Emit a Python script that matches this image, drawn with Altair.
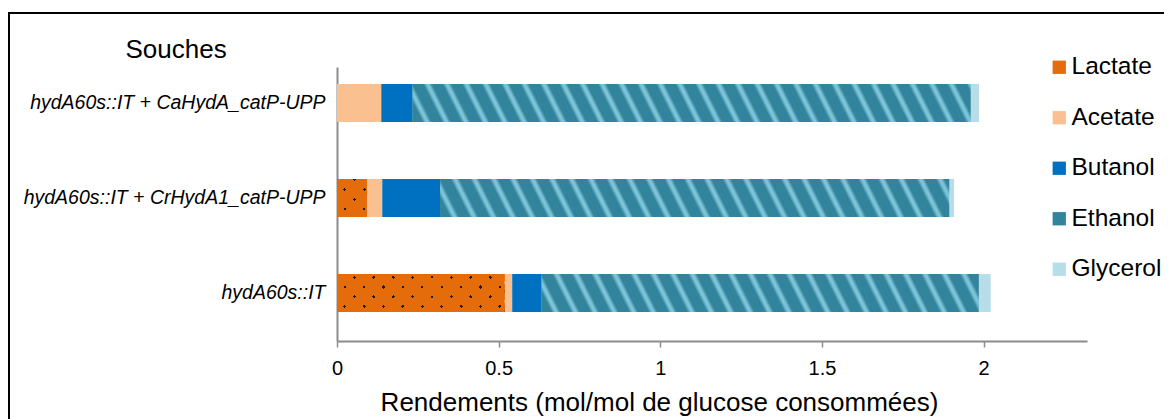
import math
import altair as alt
import pandas as pd

# ---------------- data ----------------
strains = ["hydA60s::IT + CaHydA_catP-UPP", "hydA60s::IT + CrHydA1_catP-UPP", "hydA60s::IT"]
components = ["Lactate", "Acetate", "Butanol", "Ethanol", "Glycerol"]
lactate = [0.0, 0.093, 0.519]
acetate = [0.137, 0.047, 0.023]
butanol = [0.097, 0.179, 0.091]
ethanol = [1.726, 1.575, 1.352]
glycerol = [0.026, 0.015, 0.037]
x_ticks = [0, 0.5, 1, 1.5, 2]
x_max = 2.32
colors = ["#E46C0A", "#FAC090", "#0070C0", "#31849B", "#B7DEE8"]

# ---------------- layout / style ----------------
FONT = "Liberation Sans"
PLOT_W, PLOT_H = 750, 274
PAD_IN, PAD_OUT, ALIGN = 0.6, 0.242, 0.37
AXIS_GRAY = "#8c8c8c"
px_per_unit = PLOT_W / x_max
step = PLOT_H / (len(strains) - PAD_IN + 2 * PAD_OUT)
bar_h = (1 - PAD_IN) * step

series = {"Lactate": lactate, "Acetate": acetate, "Butanol": butanol,
          "Ethanol": ethanol, "Glycerol": glycerol}
rows = []
for i, s in enumerate(strains):
    acc = 0.0
    for c in components:
        v = series[c][i]
        rows.append({"strain": s, "component": c, "value": v,
                     "start": acc, "end": acc + v})
        acc += v
df = pd.DataFrame(rows)


def stripe_gradient(w, h, m, period, band, ramp, base, line, phase):
    """Linear gradient (bbox units) giving periodic bands along s = x + m*y (px)."""
    smin = min(0.0, m * h)
    smax = w + max(0.0, m * h)
    s0 = math.floor((smin - phase) / period) * period + phase
    n = int(math.ceil((smax - s0) / period))
    span = n * period
    den = w * w + m * m * h * h
    x1 = s0 * w / den
    y1 = s0 * m * h / den
    c = span / den
    x2 = x1 + c * w
    y2 = y1 + c * m * h
    stops = []
    for k in range(n):
        a = k * period
        for off, col in ((a, base), (a + period - band, base),
                         (a + period - band + ramp, line),
                         (a + period - ramp, line), (a + period, base)):
            stops.append({"offset": round(off / span, 6), "color": col})
    return {"gradient": "linear", "x1": x1, "y1": y1, "x2": x2, "y2": y2,
            "stops": stops}


y_enc = alt.Y("strain:N", sort=strains,
              scale=alt.Scale(paddingInner=PAD_IN, paddingOuter=PAD_OUT, align=ALIGN),
              axis=alt.Axis(title="Souches", titleAngle=0, titleX=-212, titleY=-10,
                            titleAlign="left", titleBaseline="alphabetic",
                            titleFontSize=26, titleFontWeight="normal", titleFont=FONT,
                            titleColor="black", labelFontSize=19.5,
                            labelFontStyle="italic", labelFont=FONT, labelColor="black",
                            labelPadding=12, ticks=False, domainColor=AXIS_GRAY,
                            domainWidth=2, labelLimit=400))
x_enc = alt.X("start:Q",
              scale=alt.Scale(domain=[0, x_max], nice=False, zero=True),
              axis=alt.Axis(values=x_ticks, format="~g",
                            title="Rendements (mol/mol de glucose consommées)",
                            titleFontSize=26, titleFont=FONT, titleFontWeight="normal",
                            titleColor="black", titleX=322, titleY=69,
                            titleAlign="center", titleBaseline="alphabetic",
                            labelFontSize=20, labelFont=FONT, labelColor="black",
                            labelPadding=11, labelFlush=False, tickSize=6,
                            tickColor=AXIS_GRAY, tickWidth=1.5,
                            domainColor=AXIS_GRAY, domainWidth=2, grid=False))

base = alt.Chart(df).mark_bar(strokeWidth=0).encode(
    x=x_enc, x2="end:Q", y=y_enc,
    color=alt.Color("component:N",
                    scale=alt.Scale(domain=components, range=colors),
                    legend=alt.Legend(title=None, orient="none", legendX=710,
                                      legendY=-12, symbolType="square",
                                      symbolSize=177, labelFontSize=24.5,
                                      labelFont=FONT, labelColor="black",
                                      labelOffset=0, rowPadding=25.5,
                                      symbolStrokeWidth=0, padding=0)),
)

layers = [base]

# striped ethanol fills
for i, s in enumerate(strains):
    w = ethanol[i] * px_per_unit
    grad = stripe_gradient(w, bar_h, -0.5, 19.4, 9.0, 3.5, "#31849B", "#7CC4D8", 0.0)
    layers.append(
        alt.Chart(df).transform_filter(
            (alt.datum.strain == s) & (alt.datum.component == "Ethanol")
        ).mark_bar(fill=grad, strokeWidth=0).encode(x="start:Q", x2="end:Q", y=y_enc)
    )

# dotted lactate fills (two crossing band families -> dots)
dot_phases = {1: (-1.1, 0.5), 2: (-3.7, 2.9)}
for i, s in enumerate(strains):
    if lactate[i] <= 0:
        continue
    w = lactate[i] * px_per_unit
    p1, p2 = dot_phases.get(i, (0.0, 0.0))
    g_lines = stripe_gradient(w, bar_h, -1.0, 19.4, 3.2, 0.0,
                              "rgba(0,0,0,0)", "#1b1b1b", p1)
    g_mask = stripe_gradient(w, bar_h, 1.0, 19.4, 3.2, 0.0,
                             "#E46C0A", "rgba(228,108,10,0)", p2)
    for g in (g_lines, g_mask):
        layers.append(
            alt.Chart(df).transform_filter(
                (alt.datum.strain == s) & (alt.datum.component == "Lactate")
            ).mark_bar(fill=g, strokeWidth=0).encode(x="start:Q", x2="end:Q", y=y_enc)
        )

# outer frame
frame = alt.Chart(alt.Data(values=[{"f": 1}])).mark_rect(
    fill="white", fillOpacity=0, stroke="black", strokeWidth=2
).encode(x=alt.value(-328), x2=alt.value(900), y=alt.value(-54), y2=alt.value(400))
layers.append(frame)

chart = alt.layer(*layers).properties(
    width=PLOT_W, height=PLOT_H,
    autosize=alt.AutoSizeParams(type="none"),
    padding={"left": 329, "top": 59, "right": 77, "bottom": 78},
).configure_view(strokeWidth=0)

chart.save("out.html", embed_options={"renderer": "svg", "actions": False})
